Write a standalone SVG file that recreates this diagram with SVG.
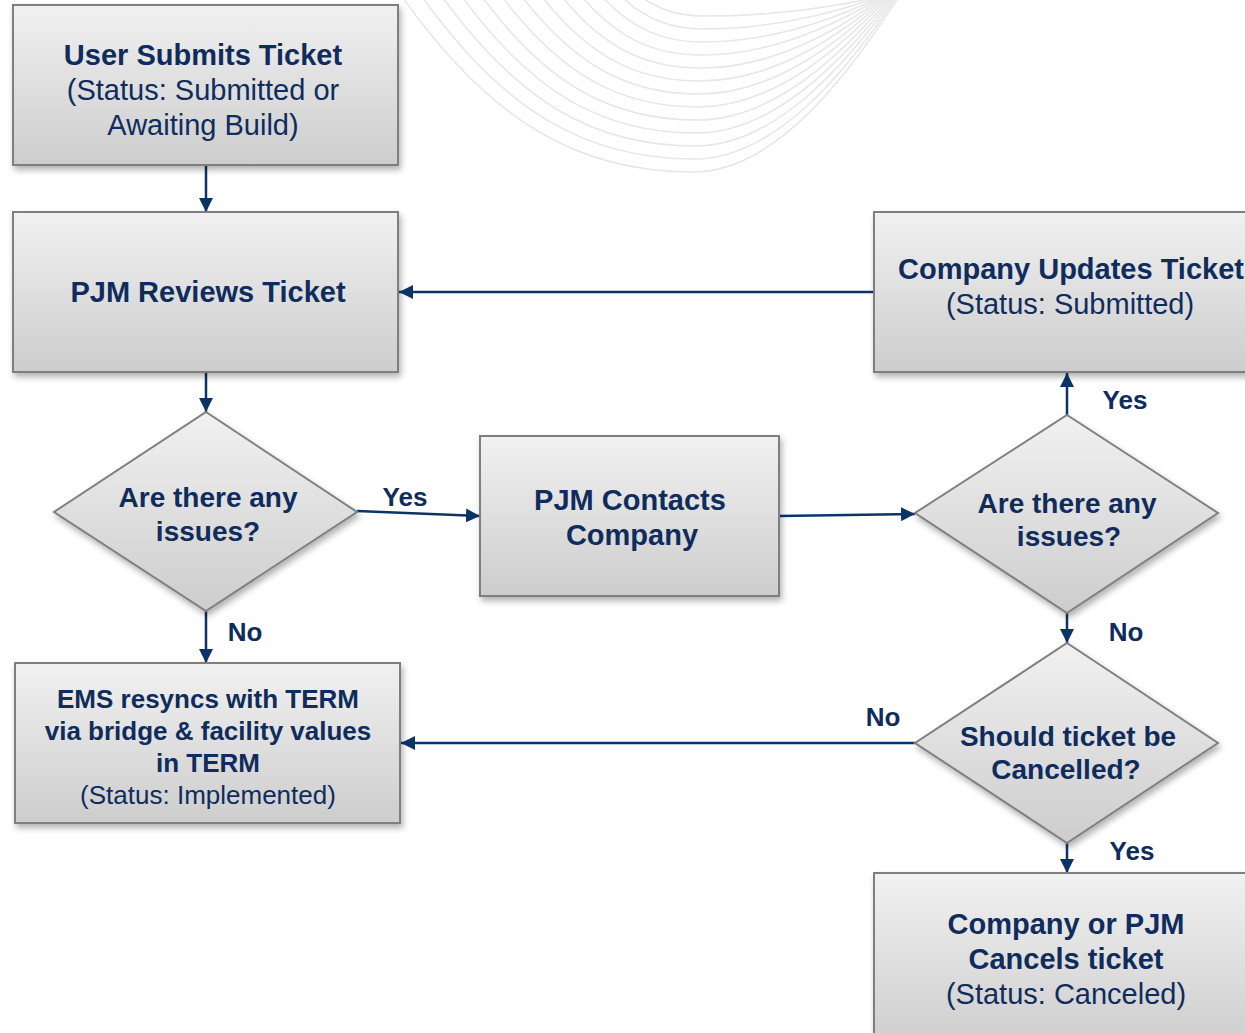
<svg xmlns="http://www.w3.org/2000/svg" width="1245" height="1033" viewBox="0 0 1245 1033">
<style>
.bg{fill:none;stroke:#e7e7e7;stroke-width:1.6}
.shape{fill:url(#g);stroke:#7f7f7f;stroke-width:2;filter:url(#sh)}
.t{font-family:"Liberation Sans",Arial,sans-serif;fill:#0f2c5c;text-anchor:middle}
.b{font-weight:bold;font-size:29px}
.r{font-size:29px}
.d{font-weight:bold;font-size:28px}
.e{font-weight:bold;font-size:26px}
.er{font-size:26px}
.lbl{font-family:"Liberation Sans",Arial,sans-serif;font-weight:bold;font-size:26px;fill:#0f2c5c;text-anchor:middle}
.c{fill:none;stroke:#0b3466;stroke-width:2.5;marker-end:url(#ah)}
</style>
<defs>
<linearGradient id="g" x1="0" y1="0" x2="0" y2="1">
<stop offset="0" stop-color="#f1f1f1"/>
<stop offset="1" stop-color="#cdcdcd"/>
</linearGradient>
<filter id="sh" x="-10%" y="-10%" width="125%" height="130%">
<feDropShadow dx="2" dy="4" stdDeviation="3" flood-color="#000" flood-opacity="0.3"/>
</filter>
<marker id="ah" viewBox="0 0 12 12" refX="12" refY="6" markerWidth="14" markerHeight="14" markerUnits="userSpaceOnUse" orient="auto">
<path d="M0,0 L12,6 L0,12 z" fill="#0b3466"/>
</marker>
</defs>
<rect width="1245" height="1033" fill="#fff"/>
<g id="background">
<path class="bg" d="M403,-2 C490,120 577,172 693,172 C775,172 847,77 898,-2"/>
<path class="bg" d="M423,-2 C504,111 586,159 694,159 C775,159 846,72 896,-2"/>
<path class="bg" d="M443,-2 C519,102 594,146 695,146 C775,146 844,66 894,-2"/>
<path class="bg" d="M463,-2 C533,93 603,133 696,133 C774,133 843,60 892,-2"/>
<path class="bg" d="M483,-2 C547,84 611,120 697,120 C774,120 842,54 890,-2"/>
<path class="bg" d="M503,-2 C562,75 620,107 698,107 C774,107 840,48 888,-2"/>
<path class="bg" d="M523,-2 C576,66 629,94 699,94 C774,94 839,42 886,-2"/>
<path class="bg" d="M543,-2 C590,57 637,81 700,81 C774,81 838,36 884,-2"/>
<path class="bg" d="M563,-2 C604,48 646,68 701,68 C773,68 837,31 882,-2"/>
<path class="bg" d="M583,-2 C619,39 654,55 702,55 C773,55 835,25 880,-2"/>
<path class="bg" d="M603,-2 C633,29 663,42 703,42 C773,42 834,19 878,-2"/>
<path class="bg" d="M623,-2 C647,20 672,29 704,29 C773,29 833,13 876,-2"/>
<path class="bg" d="M643,-2 C662,11 680,16 705,16 C773,16 832,7 874,-2"/>
</g>
<g id="connectors">
<line class="c" x1="206" y1="166" x2="206" y2="212"/>
<line class="c" x1="206" y1="373" x2="206" y2="412"/>
<line class="c" x1="357" y1="511" x2="480" y2="516"/>
<line class="c" x1="779" y1="516" x2="915" y2="514"/>
<line class="c" x1="1067" y1="415" x2="1067" y2="373"/>
<line class="c" x1="874" y1="292" x2="399" y2="292"/>
<line class="c" x1="206" y1="611" x2="206" y2="663"/>
<line class="c" x1="1067" y1="613" x2="1067" y2="643"/>
<line class="c" x1="915" y1="743" x2="401" y2="743"/>
<line class="c" x1="1067" y1="843" x2="1067" y2="873"/>
<text class="lbl" x="405" y="506">Yes</text>
<text class="lbl" x="1125" y="409">Yes</text>
<text class="lbl" x="245" y="641">No</text>
<text class="lbl" x="1126" y="641">No</text>
<text class="lbl" x="883" y="726">No</text>
<text class="lbl" x="1132" y="860">Yes</text>
</g>
<g id="user-submits">
<rect class="shape" x="13" y="5" width="385" height="160"/>
<text class="t b" x="203" y="65">User Submits Ticket</text>
<text class="t r" x="203" y="100">(Status: Submitted or</text>
<text class="t r" x="203" y="135">Awaiting Build)</text>
</g>
<g id="pjm-reviews">
<rect class="shape" x="13" y="212" width="385" height="160"/>
<text class="t b" x="208" y="302">PJM Reviews Ticket</text>
</g>
<g id="issues-1">
<polygon class="shape" points="206,412 357,512 206,611 54,512"/>
<text class="t d" x="208" y="507">Are there any</text>
<text class="t d" x="208" y="541">issues?</text>
</g>
<g id="pjm-contacts">
<rect class="shape" x="480" y="436" width="299" height="160"/>
<text class="t b" x="630" y="510">PJM Contacts</text>
<text class="t b" x="632" y="545">Company</text>
</g>
<g id="company-updates">
<rect class="shape" x="874" y="212" width="390" height="160"/>
<text class="t b" x="1071" y="279">Company Updates Ticket</text>
<text class="t r" x="1070" y="314">(Status: Submitted)</text>
</g>
<g id="issues-2">
<polygon class="shape" points="1067,415 1218,513 1067,613 915,513"/>
<text class="t d" x="1067" y="513">Are there any</text>
<text class="t d" x="1069" y="546">issues?</text>
</g>
<g id="should-cancel">
<polygon class="shape" points="1067,643 1218,743 1067,843 915,743"/>
<text class="t d" x="1068" y="746">Should ticket be</text>
<text class="t d" x="1066" y="779">Cancelled?</text>
</g>
<g id="ems-resync">
<rect class="shape" x="15" y="663" width="385" height="160"/>
<text class="t e" x="208" y="708">EMS resyncs with TERM</text>
<text class="t e" x="208" y="740">via bridge &amp; facility values</text>
<text class="t e" x="208" y="772">in TERM</text>
<text class="t er" x="208" y="804">(Status: Implemented)</text>
</g>
<g id="cancels-ticket">
<rect class="shape" x="874" y="873" width="390" height="175"/>
<text class="t b" x="1066" y="934">Company or PJM</text>
<text class="t b" x="1066" y="969">Cancels ticket</text>
<text class="t r" x="1066" y="1004">(Status: Canceled)</text>
</g>
</svg>
